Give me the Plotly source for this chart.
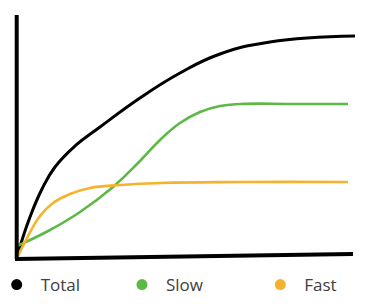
import plotly.graph_objects as go

# Data (x: time 0-100, y: value 0-100)
total_x = [0.88, 4.41, 7.94, 11.76, 17.65, 25.0, 36.76, 48.53, 60.29, 75.0, 100.0]
total_y = [2.08, 17.08, 28.75, 37.92, 46.67, 54.58, 66.67, 77.08, 85.0, 90.0, 92.5]

slow_x = [0.59, 10.29, 19.12, 28.82, 36.76, 42.65, 48.53, 54.41, 60.29, 66.18, 82.94, 97.94]
slow_y = [5.0, 11.67, 19.17, 29.58, 40.42, 49.17, 56.25, 60.83, 63.33, 64.17, 64.17, 64.17]

fast_x = [0.88, 3.53, 7.35, 11.18, 16.18, 22.06, 30.88, 42.65, 66.18, 97.94]
fast_y = [0.83, 8.33, 17.5, 22.92, 26.67, 29.17, 30.42, 31.25, 31.67, 31.67]

series_names = ["Total", "Slow", "Fast"]
series_colors = ["#000000", "#5cb946", "#f7b22c"]
series_widths = [3, 2.6, 2.6]
legend_ids = ["legend", "legend2", "legend3"]
legend_x = [-0.0656, 0.3029, 0.7097]

fig = go.Figure()
for xs, ys, color, w in zip([total_x, slow_x, fast_x], [total_y, slow_y, fast_y], series_colors, series_widths):
    fig.add_trace(go.Scatter(x=xs, y=ys, mode="lines",
                             line=dict(color=color, width=w, shape="spline", smoothing=1.3),
                             showlegend=False, hoverinfo="skip"))
for name, color, lid in zip(series_names, series_colors, legend_ids):
    fig.add_trace(go.Scatter(x=[None], y=[None], mode="markers", name=name, legend=lid,
                             marker=dict(color=color, size=11)))

# hand-drawn-looking axes
fig.add_shape(type="line", xref="paper", yref="paper", x0=0.005, y0=-0.004, x1=0.005, y1=1.0125,
              line=dict(color="black", width=4))
fig.add_shape(type="line", xref="paper", yref="paper", x0=0.0, y0=-0.004, x1=0.994, y1=0.0167,
              line=dict(color="black", width=4))

fig.update_xaxes(range=[0, 100], visible=False)
fig.update_yaxes(range=[0, 100], visible=False)
legend_common = dict(y=-0.1125, yanchor="middle", xanchor="left", bgcolor="rgba(0,0,0,0)",
                     itemwidth=38,
                     font=dict(family="Open Sans", size=17, color="#404040"))
fig.update_layout(
    width=367, height=304,
    margin=dict(l=15, r=12, t=18, b=46, autoexpand=False),
    paper_bgcolor="white", plot_bgcolor="white",
    font=dict(family="Open Sans", size=17, color="#404040"),
    legend=dict(x=legend_x[0], **legend_common),
    legend2=dict(x=legend_x[1], **legend_common),
    legend3=dict(x=legend_x[2], **legend_common),
)
fig.write_html("out.html")
